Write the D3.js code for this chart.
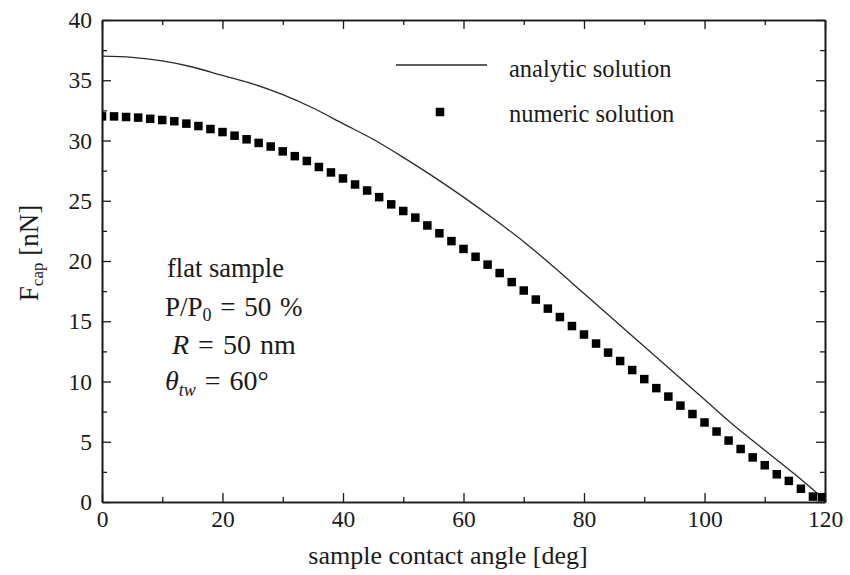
<!DOCTYPE html>
<html>
<head>
<meta charset="utf-8">
<script src="https://cdn.jsdelivr.net/npm/d3@7"></script>
<style>
  html, body { margin: 0; padding: 0; background: #fff; }
  svg { display: block; font-family: "Liberation Serif", "Times New Roman", serif; }
  text { font-family: "Liberation Serif", "Times New Roman", serif; fill: #1a1a1a; }
</style>
</head>
<body>
<svg id="chart" width="850" height="575"></svg>
<script>
// ---- data ----
const analyticAngle = [0, 5, 10, 15, 20, 25, 30, 35, 40, 45, 50, 55, 60, 65, 70, 75, 80, 85, 90, 95, 100, 105, 110, 115, 119];
const analyticForce = [37.0, 36.9, 36.6, 36.1, 35.4, 34.7, 33.8, 32.7, 31.4, 30.1, 28.6, 27.0, 25.3, 23.5, 21.6, 19.5, 17.3, 15.1, 12.9, 10.7, 8.5, 6.3, 4.3, 2.3, 0.6];

const numericAngle = [0, 2, 4, 6, 8, 10, 12, 14, 16, 18, 20, 22, 24, 26, 28, 30, 32, 34, 36, 38,
  40, 42, 44, 46, 48, 50, 52, 54, 56, 58, 60, 62, 64, 66, 68, 70, 72, 74, 76, 78,
  80, 82, 84, 86, 88, 90, 92, 94, 96, 98, 100, 102, 104, 106, 108, 110, 112, 114, 116, 118, 119.5];
const numericForce = [32.0, 32.0, 31.95, 31.9, 31.8, 31.7, 31.6, 31.4, 31.2, 30.95, 30.7, 30.4, 30.1, 29.8, 29.5, 29.1, 28.7, 28.3, 27.8, 27.35,
  26.85, 26.35, 25.85, 25.3, 24.7, 24.15, 23.6, 22.95, 22.3, 21.65, 21.0, 20.35, 19.7, 19.0, 18.25, 17.55, 16.8, 16.05, 15.35, 14.6,
  13.9, 13.15, 12.4, 11.7, 10.95, 10.2, 9.45, 8.75, 8.0, 7.3, 6.6, 5.85, 5.1, 4.4, 3.7, 3.05, 2.3, 1.75, 1.1, 0.45, 0.4];

const xMajorTicks = [0, 20, 40, 60, 80, 100, 120];
const xMinorTicks = [10, 30, 50, 70, 90, 110];
const yMajorTicks = [0, 5, 10, 15, 20, 25, 30, 35, 40];
const yMinorTicks = [2.5, 7.5, 12.5, 17.5, 22.5, 27.5, 32.5, 37.5];

const xTitle = "sample contact angle [deg]";
const legendLabels = ["analytic solution", "numeric solution"];

(function () {
// ---- layout ----
const svg = d3.select("#chart");
const pL = 102, pR = 825, pT = 20, pB = 502;
const x = d3.scaleLinear().domain([0, 120]).range([pL, pR]);
const y = d3.scaleLinear().domain([0, 40]).range([pB, pT]);

const ink = "#1a1a1a";
const serif = '"Liberation Serif", "Times New Roman", serif';
const majorLen = 9, minorLen = 5;

function styleAxis(g) {
  g.attr("font-family", null);
  g.selectAll("path.domain").attr("stroke", ink).attr("stroke-width", 1.6);
  g.selectAll(".tick line").attr("stroke", ink).attr("stroke-width", 1.3);
  g.selectAll(".tick text").attr("fill", ink)
    .style("font-family", serif).style("font-size", "23.5px");
}

// bottom
svg.append("g").attr("transform", `translate(0,${pB})`)
  .call(d3.axisBottom(x).tickValues(xMajorTicks).tickFormat(d3.format("d"))
    .tickSizeInner(-majorLen).tickSizeOuter(0).tickPadding(8))
  .call(styleAxis);
svg.append("g").attr("transform", `translate(0,${pB})`)
  .call(d3.axisBottom(x).tickValues(xMinorTicks).tickFormat("")
    .tickSizeInner(-minorLen).tickSizeOuter(0))
  .call(styleAxis);
// top
svg.append("g").attr("transform", `translate(0,${pT})`)
  .call(d3.axisTop(x).tickValues(xMajorTicks).tickFormat("")
    .tickSizeInner(-majorLen).tickSizeOuter(0))
  .call(styleAxis);
svg.append("g").attr("transform", `translate(0,${pT})`)
  .call(d3.axisTop(x).tickValues(xMinorTicks).tickFormat("")
    .tickSizeInner(-minorLen).tickSizeOuter(0))
  .call(styleAxis);
// left
svg.append("g").attr("transform", `translate(${pL},0)`)
  .call(d3.axisLeft(y).tickValues(yMajorTicks).tickFormat(d3.format("d"))
    .tickSizeInner(-majorLen).tickSizeOuter(0).tickPadding(10))
  .call(styleAxis);
svg.append("g").attr("transform", `translate(${pL},0)`)
  .call(d3.axisLeft(y).tickValues(yMinorTicks).tickFormat("")
    .tickSizeInner(-minorLen).tickSizeOuter(0))
  .call(styleAxis);
// right
svg.append("g").attr("transform", `translate(${pR},0)`)
  .call(d3.axisRight(y).tickValues(yMajorTicks).tickFormat("")
    .tickSizeInner(-majorLen).tickSizeOuter(0))
  .call(styleAxis);
svg.append("g").attr("transform", `translate(${pR},0)`)
  .call(d3.axisRight(y).tickValues(yMinorTicks).tickFormat("")
    .tickSizeInner(-minorLen).tickSizeOuter(0))
  .call(styleAxis);

// ---- series ----
const analytic = analyticAngle.map((a, i) => [a, analyticForce[i]]);
const numeric = numericAngle.map((a, i) => [a, numericForce[i]]);

svg.append("path")
  .datum(analytic)
  .attr("fill", "none")
  .attr("stroke", "#2a2a2a")
  .attr("stroke-width", 1.3)
  .attr("d", d3.line().x(d => x(d[0])).y(d => y(d[1])).curve(d3.curveMonotoneX));

const sq = 8.5;
svg.append("defs").append("clipPath").attr("id", "plotclip")
  .append("rect").attr("x", pL).attr("y", pT).attr("width", pR - pL).attr("height", pB - pT);

svg.append("g").attr("clip-path", "url(#plotclip)")
  .selectAll("rect").data(numeric).join("rect")
  .attr("x", d => x(d[0]) - sq / 2)
  .attr("y", d => y(d[1]) - sq / 2)
  .attr("width", sq).attr("height", sq)
  .attr("fill", "#000");

// ---- legend ----
svg.append("line").attr("x1", 396).attr("x2", 487).attr("y1", 65).attr("y2", 65)
  .attr("stroke", "#2a2a2a").attr("stroke-width", 1.3);
svg.append("rect").attr("x", 440 - sq / 2).attr("y", 112 - sq / 2).attr("width", sq).attr("height", sq).attr("fill", "#000");
svg.append("text").attr("x", 509).attr("y", 77).style("font-size", "24.5px").text(legendLabels[0]);
svg.append("text").attr("x", 509).attr("y", 122).style("font-size", "24.5px").text(legendLabels[1]);

// ---- axis titles ----
svg.append("text").attr("x", 448).attr("y", 564)
  .attr("text-anchor", "middle").style("font-size", "26px").text(xTitle);

const yt = svg.append("text").attr("transform", "translate(38,253) rotate(-90)")
  .attr("text-anchor", "middle").style("font-size", "27px");
yt.append("tspan").text("F");
yt.append("tspan").attr("dy", 5).style("font-size", "17px").text("cap");
yt.append("tspan").attr("dy", -5).text(" [nN]");

// ---- annotations ----
const ann = svg.append("g").style("font-size", "26.5px");
ann.append("text").attr("x", 167).attr("y", 277).text("flat sample");
const p = ann.append("text").attr("x", 165).attr("y", 316).style("font-size", "27px").style("word-spacing", "2px");
p.append("tspan").text("P/P");
p.append("tspan").attr("dy", 5).style("font-size", "18px").text("0");
p.append("tspan").attr("dy", -5).text(" = 50 %");
const r = ann.append("text").attr("x", 172).attr("y", 354).style("font-size", "28px").style("word-spacing", "2px");
r.append("tspan").style("font-style", "italic").text("R");
r.append("tspan").text(" = 50 nm");
const t = ann.append("text").attr("x", 165).attr("y", 390).style("font-size", "28px").style("word-spacing", "2px");
t.append("tspan").style("font-style", "italic").text("θ");
t.append("tspan").attr("dy", 6).style("font-size", "18px").style("font-style", "italic").text("tw");
t.append("tspan").attr("dy", -6).text(" = 60°");
})();
</script>
</body>
</html>
